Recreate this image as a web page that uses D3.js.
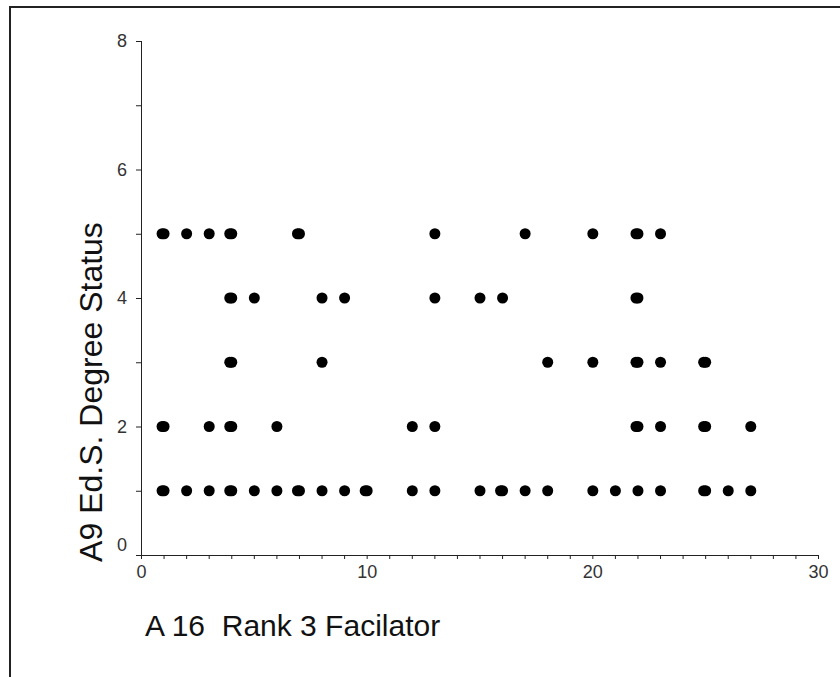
<!DOCTYPE html>
<html>
<head>
<meta charset="utf-8">
<script src="https://cdn.jsdelivr.net/npm/d3@7"></script>
<style>
  html, body { margin: 0; padding: 0; background: #fff; }
  svg { display: block; }
</style>
</head>
<body>
<div id="chart"></div>
<script>
// points, one entry per case (repeats are stacked cases)
const pointX = [
    1, 1, 2, 3, 4, 4, 7, 7, 13, 17, 20, 22, 22, 23,
    4, 4, 5, 8, 9, 13, 15, 16, 22, 22,
    4, 4, 8, 18, 20, 22, 22, 23, 25, 25,
    1, 1, 3, 4, 4, 6, 12, 13, 22, 22, 23, 25, 25, 27,
    1, 1, 2, 3, 4, 4, 5, 6, 7, 7, 8, 9, 10, 10, 12, 13, 15, 16, 16, 17, 18, 20, 21, 22, 23, 25, 25, 26, 27
];
const pointY = [
    5, 5, 5, 5, 5, 5, 5, 5, 5, 5, 5, 5, 5, 5,
    4, 4, 4, 4, 4, 4, 4, 4, 4, 4,
    3, 3, 3, 3, 3, 3, 3, 3, 3, 3,
    2, 2, 2, 2, 2, 2, 2, 2, 2, 2, 2, 2, 2, 2,
    1, 1, 1, 1, 1, 1, 1, 1, 1, 1, 1, 1, 1, 1, 1, 1, 1, 1, 1, 1, 1, 1, 1, 1, 1, 1, 1, 1, 1
];
const xDomain = [0, 30];
const yDomain = [0, 8];
const xLabelTicks = [0, 10, 20, 30];
const yLabelTicks = [0, 2, 4, 6, 8];
const xTitle = "A 16  Rank 3 Facilator";
const yTitle = "A9 Ed.S. Degree Status";

const width = 840, height = 677;
const plotLeft = 141, plotRight = 818, plotTop = 41, plotBottom = 555;
const font = "Arial, 'Liberation Sans', sans-serif";

const svg = d3.select("#chart")
    .append("svg")
    .attr("width", width)
    .attr("height", height);

svg.append("rect").attr("width", width).attr("height", height).attr("fill", "#fff");

// frame (only top and left edges are in view)
svg.append("path")
    .attr("d", `M 10 ${height} L 10 7 L ${width} 7`)
    .attr("fill", "none")
    .attr("stroke", "#222")
    .attr("stroke-width", 2);

const x = d3.scaleLinear().domain(xDomain).range([plotLeft, plotRight]);
const y = d3.scaleLinear().domain(yDomain).range([plotBottom, plotTop]);

// y axis
const yAxis = svg.append("g")
    .attr("transform", `translate(${plotLeft},0)`)
    .call(d3.axisLeft(y).tickValues(d3.range(yDomain[0], yDomain[1] + 1)).tickSize(5).tickPadding(9)
        .tickFormat(d => yLabelTicks.includes(d) ? d : ""));
yAxis.select(".domain").attr("stroke", "#222").attr("d", `M0.5,${plotBottom}V${plotTop}`);
yAxis.selectAll(".tick line").attr("stroke", "#222");
yAxis.selectAll(".tick text")
    .attr("font-family", font)
    .attr("font-size", "18px")
    .attr("fill", "#333")
    .attr("dy", d => d === 0 ? "-0.25em" : "0.32em");

// x axis
const xAxis = svg.append("g")
    .attr("transform", `translate(0,${plotBottom})`)
    .call(d3.axisBottom(x).tickValues(d3.range(xDomain[0], xDomain[1] + 1)).tickSize(4).tickPadding(6)
        .tickFormat(d => xLabelTicks.includes(d) ? d : ""));
xAxis.select(".domain").attr("stroke", "#222").attr("d", `M${plotLeft - 5},0.5H${plotRight}`);
xAxis.selectAll(".tick line").attr("stroke", "#222");
xAxis.selectAll(".tick text")
    .attr("font-family", font)
    .attr("font-size", "18px")
    .attr("fill", "#333");

// points: repeated cases get a small sideways nudge, like the original plot
const seen = {};
const points = pointX.map((px, i) => {
    const key = px + "_" + pointY[i];
    const k = seen[key] || 0;
    seen[key] = k + 1;
    return { x: px, y: pointY[i], k: k };
});

svg.append("g")
    .selectAll("circle")
    .data(points)
    .join("circle")
    .attr("cx", d => x(d.x) + (d.k ? -1.5 : 0.5))
    .attr("cy", d => y(d.y))
    .attr("r", 5.5)
    .attr("fill", "#000");

// axis titles
svg.append("text")
    .attr("x", 145)
    .attr("y", 636)
    .attr("font-family", font)
    .attr("font-size", "30px")
    .attr("fill", "#111")
    .style("white-space", "pre")
    .text(xTitle);

svg.append("text")
    .attr("transform", `translate(102,392) rotate(-90)`)
    .attr("text-anchor", "middle")
    .attr("font-family", font)
    .attr("font-size", "32px")
    .attr("fill", "#111")
    .text(yTitle);
</script>
</body>
</html>
